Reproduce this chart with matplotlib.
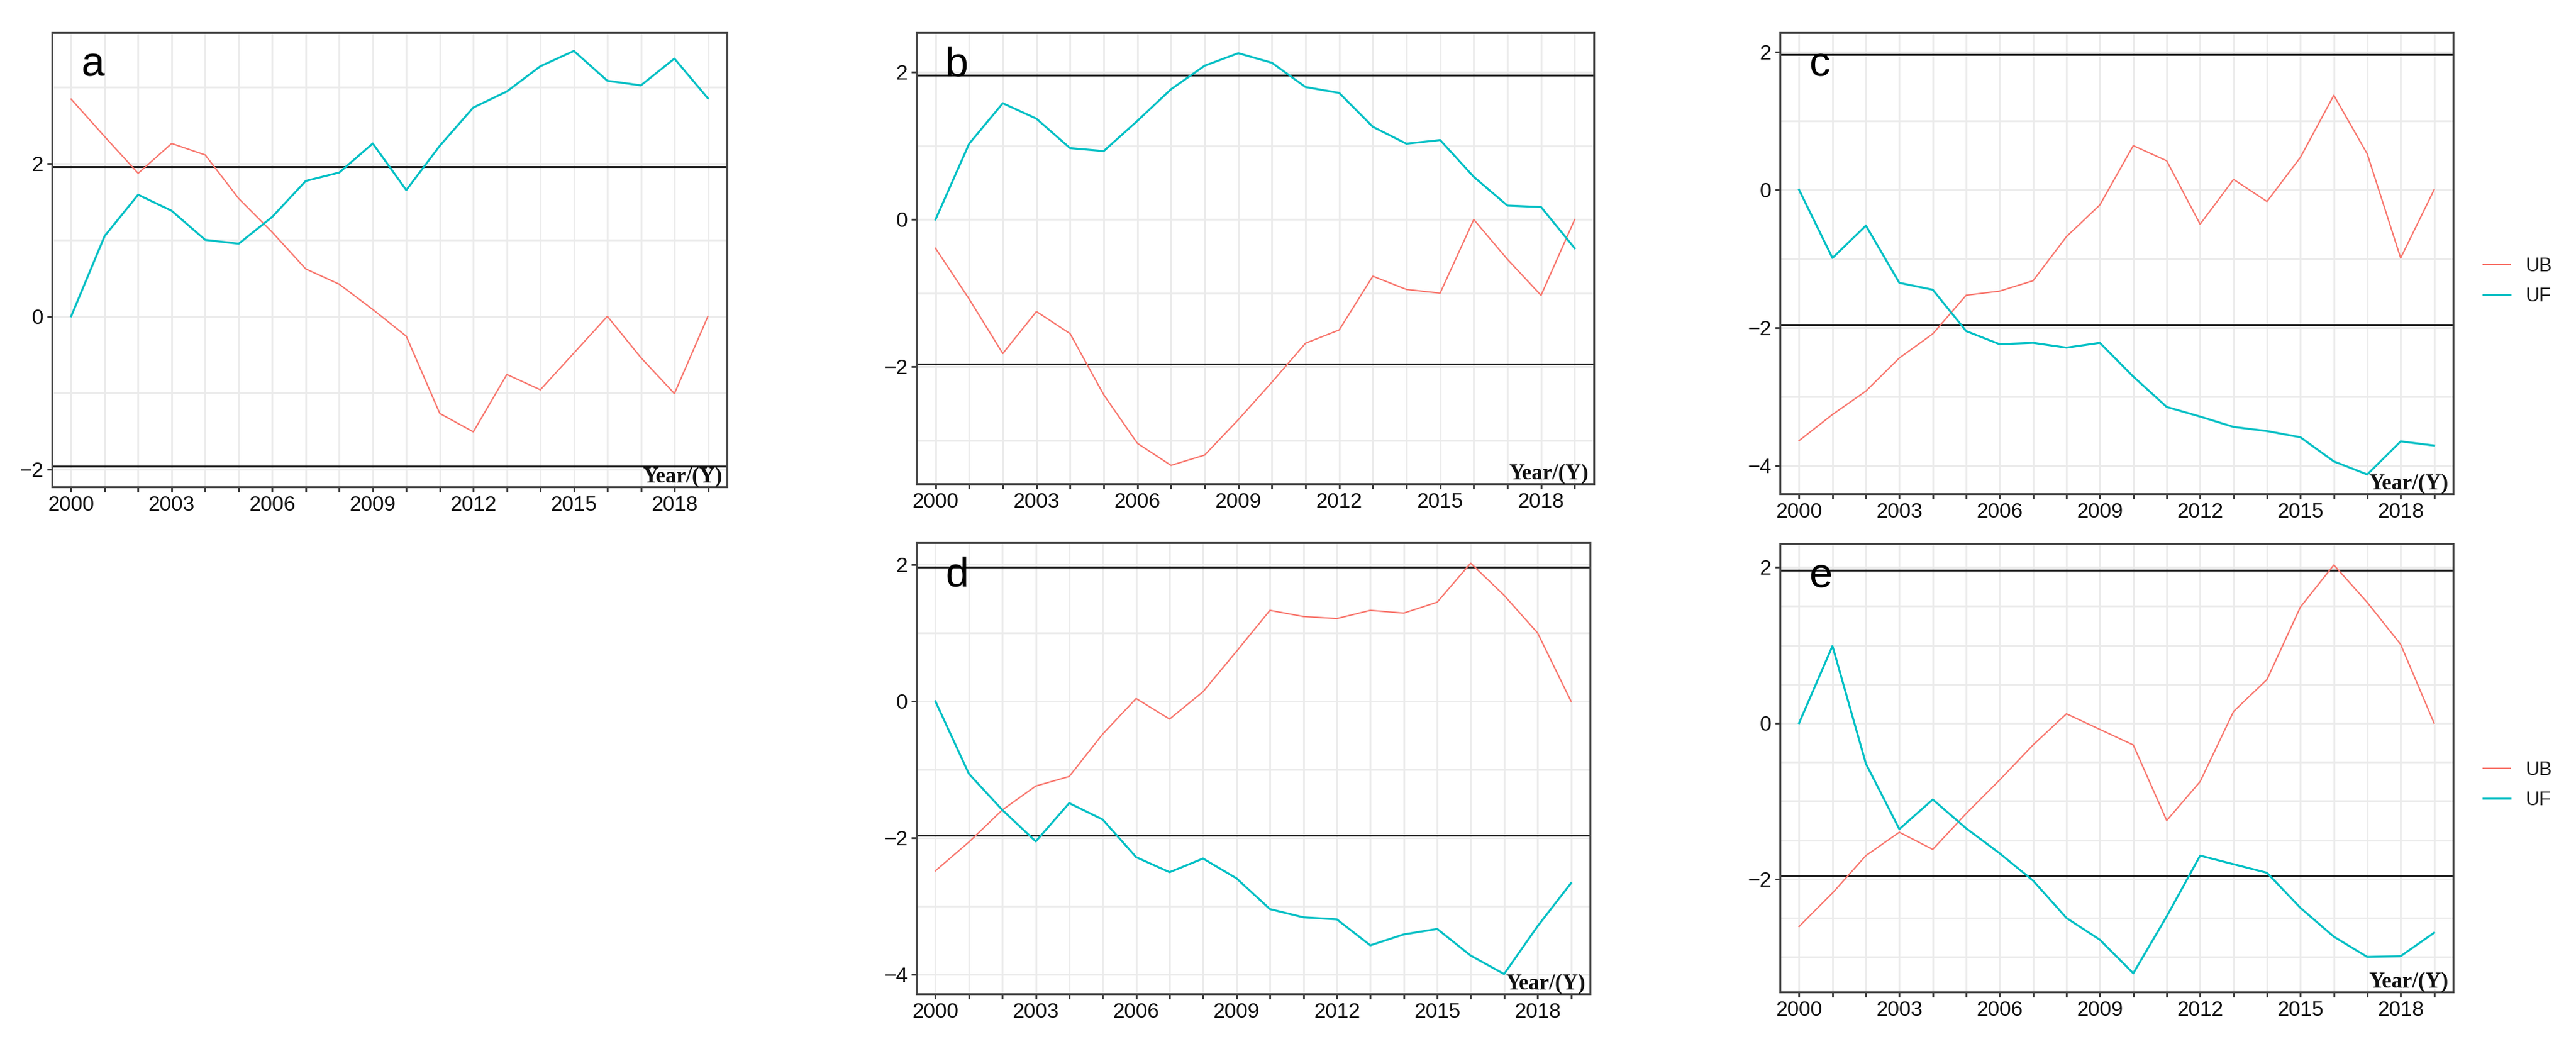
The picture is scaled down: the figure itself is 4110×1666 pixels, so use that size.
import matplotlib
matplotlib.use("Agg")
import matplotlib.pyplot as plt
from matplotlib.ticker import MultipleLocator, FixedLocator, FuncFormatter

plt.rcParams['font.family'] = ['Liberation Sans', 'DejaVu Sans']

years = list(range(2000, 2020))

# Panel a
a_UF = [0.00, 1.05, 1.59, 1.38, 1.00, 0.95, 1.30, 1.77, 1.88, 2.26, 1.65, 2.23, 2.73, 2.94, 3.27, 3.47, 3.08, 3.02, 3.37, 2.85]
a_UB = [2.84, 2.35, 1.87, 2.26, 2.11, 1.54, 1.10, 0.62, 0.42, 0.09, -0.26, -1.27, -1.51, -0.76, -0.96, -0.48, 0.00, -0.54, -1.01, 0.00]
# Panel b
b_UF = [0.00, 1.03, 1.58, 1.37, 0.97, 0.93, 1.34, 1.77, 2.09, 2.26, 2.13, 1.80, 1.72, 1.26, 1.03, 1.08, 0.58, 0.19, 0.17, -0.39]
b_UB = [-0.39, -1.08, -1.82, -1.25, -1.55, -2.38, -3.04, -3.34, -3.20, -2.72, -2.21, -1.68, -1.50, -0.77, -0.95, -1.00, 0.00, -0.54, -1.03, 0.00]
# Panel c
c_UB = [-3.64, -3.26, -2.92, -2.44, -2.09, -1.53, -1.47, -1.32, -0.68, -0.22, 0.64, 0.42, -0.50, 0.15, -0.17, 0.47, 1.37, 0.52, -0.99, 0.00]
c_UF = [0.00, -0.99, -0.52, -1.35, -1.45, -2.05, -2.24, -2.22, -2.29, -2.22, -2.71, -3.15, -3.29, -3.44, -3.50, -3.59, -3.94, -4.13, -3.65, -3.71]
# Panel d
d_UB = [-2.48, -2.06, -1.59, -1.24, -1.10, -0.48, 0.04, -0.26, 0.14, 0.73, 1.33, 1.24, 1.21, 1.33, 1.29, 1.45, 2.02, 1.55, 1.00, 0.00]
d_UF = [0.00, -1.06, -1.59, -2.05, -1.49, -1.73, -2.28, -2.50, -2.30, -2.59, -3.04, -3.16, -3.19, -3.57, -3.41, -3.33, -3.72, -3.99, -3.29, -2.66]
# Panel e
e_UB = [-2.61, -2.18, -1.70, -1.40, -1.62, -1.16, -0.73, -0.28, 0.12, -0.08, -0.28, -1.25, -0.75, 0.15, 0.56, 1.49, 2.03, 1.55, 1.01, 0.00]
e_UF = [0.00, 0.99, -0.52, -1.36, -0.98, -1.35, -1.67, -2.02, -2.50, -2.78, -3.21, -2.48, -1.70, -1.81, -1.92, -2.37, -2.74, -3.00, -2.99, -2.69]

panel_labels = ['a', 'b', 'c', 'd', 'e']
series_names = ['UB', 'UF']
crit = 1.96
xlabel_text = 'Year/(Y)'

W, H = 4110, 1666
fig = plt.figure(figsize=(W / 100, H / 100), dpi=100)

RED = '#F8766D'
CYAN = '#00BFC4'

# pixel boxes (left, top, right, bottom) and y-limits
boxes = {
    'a': (83, 52, 1160, 777),
    'b': (1462, 52, 2543, 772),
    'c': (2840, 52, 3914, 788),
    'd': (1462, 866, 2537, 1586),
    'e': (2840, 868, 3914, 1583),
}
ylims = {
    'a': (-2.23, 3.71),
    'b': (-3.59, 2.54),
    'c': (-4.41, 2.28),
    'd': (-4.28, 2.32),
    'e': (-3.45, 2.30),
}
data = {
    'a': (a_UB, a_UF),
    'b': (b_UB, b_UF),
    'c': (c_UB, c_UF),
    'd': (d_UB, d_UF),
    'e': (e_UB, e_UF),
}
minor_step = {'a': 1, 'b': 1, 'c': 1, 'd': 1, 'e': 0.5}

handles = {}
for lab in panel_labels:
    l, t, r, b = boxes[lab]
    ax = fig.add_axes([l / W, 1 - b / H, (r - l) / W, (b - t) / H])
    ub, uf = data[lab]
    ax.grid(which='both', color='#EBEBEB', lw=2.0, zorder=0)
    ax.set_axisbelow(True)
    hub, = ax.plot(years, ub, color=RED, lw=1.6, zorder=3, label='UB')
    huf, = ax.plot(years, uf, color=CYAN, lw=2.3, zorder=3, label='UF')
    handles[lab] = (hub, huf)
    ax.axhline(crit, color='#1a1a1a', lw=2.2, zorder=2)
    ax.axhline(-crit, color='#1a1a1a', lw=2.2, zorder=2)
    ax.set_xlim(1999.43, 2019.57)
    ax.set_ylim(*ylims[lab])
    ax.xaxis.set_major_locator(FixedLocator(years))
    ax.xaxis.set_major_formatter(FuncFormatter(lambda v, p: str(int(round(v))) if int(round(v - 2000)) % 3 == 0 else ''))
    ax.yaxis.set_major_locator(MultipleLocator(2))
    ax.yaxis.set_minor_locator(MultipleLocator(minor_step[lab]))
    ax.tick_params(which='major', length=6, width=2, color='#333333', labelsize=24,
                   labelcolor='#111111', pad=4)
    ax.tick_params(which='minor', length=0)
    for s in ax.spines.values():
        s.set_color('#444444')
        s.set_linewidth(2.2)
    ax.annotate(lab, xy=(0, 1), xycoords='axes fraction', xytext=(46, -70),
                textcoords='offset pixels', ha='left', va='baseline',
                fontsize=48, color='black', zorder=5)
    ax.annotate(xlabel_text, xy=(1, 0), xycoords='axes fraction', xytext=(-8, 8),
                textcoords='offset pixels', ha='right', va='baseline',
                fontsize=25, fontweight='bold', family=['Liberation Serif', 'DejaVu Serif'],
                color='#111111', zorder=5)

for lab, ycen in (('c', 449), ('e', 1253)):
    hub, huf = handles[lab]
    fig.legend(handles=[hub, huf], labels=series_names, loc='center left',
               bbox_to_anchor=(3962 / W, 1 - ycen / H), frameon=False,
               fontsize=22, handlelength=1.4, handletextpad=0.8, labelspacing=0.6,
               borderpad=0, borderaxespad=0, labelcolor='#222222')

fig.savefig('out.png', dpi=100, facecolor='white')
